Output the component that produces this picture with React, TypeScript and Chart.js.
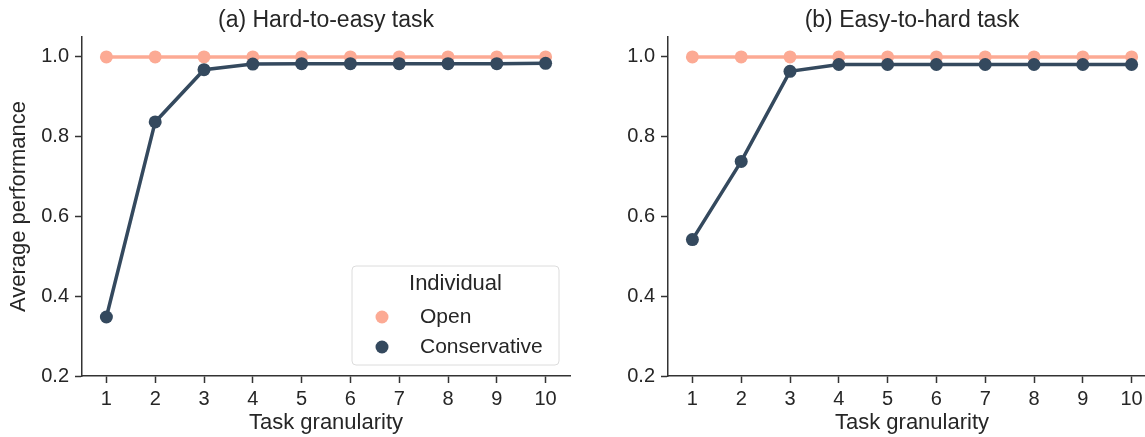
import React, { useEffect, useRef } from "react";
import { Chart, registerables } from "chart.js";

Chart.register(...registerables);

// ---- data ----
const granularity = [1, 2, 3, 4, 5, 6, 7, 8, 9, 10];
const yTicks = [0.2, 0.4, 0.6, 0.8, 1.0];
const seriesLabels = ["Open", "Conservative"];
const legendTitle = "Individual";

const openHardToEasy = [1.0, 1.0, 1.0, 1.0, 1.0, 1.0, 1.0, 1.0, 1.0, 1.0];
const conservativeHardToEasy = [0.348, 0.837, 0.968, 0.982, 0.983, 0.983, 0.983, 0.983, 0.983, 0.984];
const openEasyToHard = [1.0, 1.0, 1.0, 1.0, 1.0, 1.0, 1.0, 1.0, 1.0, 1.0];
const conservativeEasyToHard = [0.542, 0.738, 0.964, 0.981, 0.981, 0.981, 0.981, 0.981, 0.981, 0.981];

const titleA = "(a) Hard-to-easy task";
const titleB = "(b) Easy-to-hard task";
const xLabel = "Task granularity";
const yLabel = "Average performance";

const OPEN_COLOR = "#fcaa94";
const CONS_COLOR = "#34495e";
const AXIS_COLOR = "#333333";
const TEXT_COLOR = "#262626";
const FONT = "'Liberation Sans', Arial, sans-serif";

const legendPlugin = {
  id: "customLegend",
  afterDraw(chart: any, _args: any, opts: any) {
    if (!opts || !opts.show) return;
    const { ctx, chartArea } = chart;
    const w = 207;
    const h = 99;
    const x = chartArea.right - 11 - w;
    const y = chartArea.bottom - 11 - h;
    ctx.save();
    ctx.beginPath();
    const r = 4;
    ctx.moveTo(x + r, y);
    ctx.lineTo(x + w - r, y);
    ctx.quadraticCurveTo(x + w, y, x + w, y + r);
    ctx.lineTo(x + w, y + h - r);
    ctx.quadraticCurveTo(x + w, y + h, x + w - r, y + h);
    ctx.lineTo(x + r, y + h);
    ctx.quadraticCurveTo(x, y + h, x, y + h - r);
    ctx.lineTo(x, y + r);
    ctx.quadraticCurveTo(x, y, x + r, y);
    ctx.closePath();
    ctx.fillStyle = "rgba(255,255,255,0.85)";
    ctx.fill();
    ctx.strokeStyle = "#dcdcdc";
    ctx.lineWidth = 1;
    ctx.stroke();

    ctx.fillStyle = TEXT_COLOR;
    ctx.textAlign = "center";
    ctx.textBaseline = "middle";
    ctx.font = `22px ${FONT}`;
    ctx.fillText(legendTitle, x + w / 2, y + 18);

    const colors = [OPEN_COLOR, CONS_COLOR];
    seriesLabels.forEach((lab, i) => {
      const cy = y + 51 + i * 30;
      ctx.beginPath();
      ctx.arc(x + 30, cy, 6.5, 0, Math.PI * 2);
      ctx.fillStyle = colors[i];
      ctx.fill();
      ctx.fillStyle = TEXT_COLOR;
      ctx.textAlign = "left";
      ctx.font = `21px ${FONT}`;
      ctx.fillText(lab, x + 68, cy);
    });
    ctx.restore();
  },
};

type PanelProps = {
  left: number;
  width: number;
  yWidth: number;
  padRight: number;
  title: string;
  open: number[];
  cons: number[];
  showYTitle: boolean;
  showLegend: boolean;
};

function Panel(p: PanelProps) {
  const ref = useRef<HTMLCanvasElement | null>(null);
  useEffect(() => {
    if (!ref.current) return;
    const toPts = (arr: number[]) => granularity.map((g, i) => ({ x: g, y: arr[i] }));
    const chart = new Chart(ref.current, {
      type: "line",
      data: {
        datasets: [
          {
            label: seriesLabels[1],
            data: toPts(p.cons),
            borderColor: CONS_COLOR,
            backgroundColor: CONS_COLOR,
            pointBackgroundColor: CONS_COLOR,
            pointBorderWidth: 0,
            pointRadius: 6.5,
            borderWidth: 3.5,
            order: 0,
          },
          {
            label: seriesLabels[0],
            data: toPts(p.open),
            borderColor: OPEN_COLOR,
            backgroundColor: OPEN_COLOR,
            pointBackgroundColor: OPEN_COLOR,
            pointBorderWidth: 0,
            pointRadius: 6.5,
            borderWidth: 3.5,
            order: 1,
          },
        ],
      },
      options: {
        responsive: false,
        animation: false,
        devicePixelRatio: 1,
        layout: { padding: { left: 0, right: p.padRight, top: 0, bottom: 0 } },
        plugins: {
          legend: { display: false },
          tooltip: { enabled: false },
          title: {
            display: true,
            text: p.title,
            fullSize: false,
            color: TEXT_COLOR,
            font: { family: FONT, size: 23, weight: "normal", lineHeight: 1.2 },
            padding: { top: 7, bottom: 2.4 },
          },
          customLegend: { show: p.showLegend },
        } as any,
        scales: {
          x: {
            type: "linear",
            min: 0.5,
            max: 10.5,
            afterBuildTicks: (s: any) => {
              s.ticks = granularity.map((v) => ({ value: v }));
            },
            afterFit: (s: any) => {
              s.height = 61;
            },
            border: { display: true, color: AXIS_COLOR, width: 1.5 },
            grid: {
              display: true,
              drawOnChartArea: false,
              drawTicks: true,
              tickLength: 7,
              tickColor: AXIS_COLOR,
              tickWidth: 1.5,
            },
            ticks: {
              color: TEXT_COLOR,
              font: { family: FONT, size: 20 },
              padding: 4,
              maxRotation: 0,
              autoSkip: false,
              callback: (v: any) => String(v),
            },
            title: {
              display: true,
              text: xLabel,
              color: TEXT_COLOR,
              font: { family: FONT, size: 22, lineHeight: 1.2 },
              padding: { top: 0, bottom: 1 },
            },
          },
          y: {
            type: "linear",
            min: 0.2,
            max: 1.05,
            afterBuildTicks: (s: any) => {
              s.ticks = yTicks.map((v) => ({ value: v }));
            },
            afterFit: (s: any) => {
              s.width = p.yWidth;
            },
            border: { display: true, color: AXIS_COLOR, width: 1.5 },
            grid: {
              display: true,
              drawOnChartArea: false,
              drawTicks: true,
              tickLength: 7,
              tickColor: AXIS_COLOR,
              tickWidth: 1.5,
            },
            ticks: {
              color: TEXT_COLOR,
              font: { family: FONT, size: 20 },
              padding: 6,
              callback: (v: any) => Number(v).toFixed(1),
            },
            title: {
              display: p.showYTitle,
              text: yLabel,
              color: TEXT_COLOR,
              font: { family: FONT, size: 22, lineHeight: 1.2 },
              padding: { top: 6, bottom: 0 },
            },
          },
        },
      },
      plugins: [legendPlugin],
    } as any);
    return () => chart.destroy();
  }, []);
  return (
    <div style={{ position: "absolute", left: p.left, top: 0, width: p.width, height: 437 }}>
      <canvas ref={ref} width={p.width} height={437} style={{ width: p.width, height: 437, display: "block" }} />
    </div>
  );
}

export default function App() {
  return (
    <div
      style={{
        position: "fixed",
        left: 0,
        top: 0,
        width: 1145,
        height: 437,
        overflow: "hidden",
        background: "#ffffff",
      }}
    >
      <Panel
        left={0}
        width={580}
        yWidth={82}
        padRight={10}
        title={titleA}
        open={openHardToEasy}
        cons={conservativeHardToEasy}
        showYTitle={true}
        showLegend={true}
      />
      <Panel
        left={580}
        width={590}
        yWidth={88}
        padRight={14}
        title={titleB}
        open={openEasyToHard}
        cons={conservativeEasyToHard}
        showYTitle={false}
        showLegend={false}
      />
    </div>
  );
}
